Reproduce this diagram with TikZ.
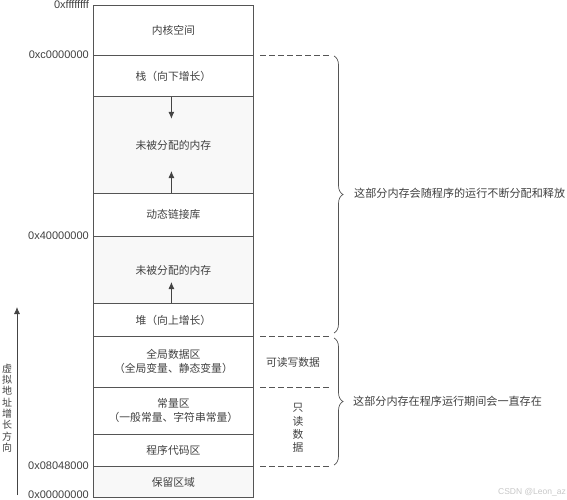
\documentclass[tikz,border=0pt]{standalone}
\usepackage{fontspec}
\setmainfont{Liberation Sans}
\newfontfamily\cjk{Noto Sans CJK SC}
\usetikzlibrary{decorations.pathreplacing,arrows.meta}
\definecolor{linec}{HTML}{555555}
\definecolor{textc}{HTML}{404040}
\definecolor{freec}{HTML}{F8F8F8}
\begin{document}
\begin{tikzpicture}[x=1pt,y=-1pt,
  region/.style={draw=linec, line width=0.8pt, minimum width=160pt, inner sep=0pt, anchor=north west,
    font=\cjk\fontsize{10.8}{14}\selectfont, text=textc, align=center},
  freeregion/.style={region, fill=freec},
  addr/.style={anchor=east, font=\fontsize{11}{12}\selectfont, text=textc, inner sep=0pt},
  dashline/.style={draw=linec, line width=0.7pt, dash pattern=on 6pt off 3pt},
  bracec/.style={draw=linec, line width=0.7pt, decorate, decoration={brace, amplitude=9pt}},
  note/.style={anchor=west, font=\cjk\fontsize{11.1}{14}\selectfont, text=textc, inner sep=0pt},
  growarrow/.style={draw=linec!80!black, line width=0.8pt, -{Latex[length=7pt,width=6pt]}}
]
\useasboundingbox (0,0) rectangle (567,500);

% regions
\node[region, minimum height=50pt] (kernel) at (93,5) {内核空间};
\node[region, minimum height=41pt] (stack) at (93,55) {栈（向下增长）};
\node[freeregion, minimum height=97pt] (free1) at (93,96) {未被分配的内存};
\node[region, minimum height=43pt] (dynlib) at (93,193) {动态链接库};
\node[freeregion, minimum height=67pt] (free2) at (93,236) {未被分配的内存};
\node[region, minimum height=33pt] (heap) at (93,303) {堆（向上增长）};
\node[region, minimum height=51pt] (global) at (93,336) {全局数据区\\（全局变量、静态变量）};
\node[region, minimum height=47pt] (const) at (93,387) {常量区\\（一般常量、字符串常量）};
\node[region, minimum height=32pt] (code) at (93,434) {程序代码区};
\node[freeregion, minimum height=31pt] (reserved) at (93,466) {保留区域};

% growth arrows
\coordinate (s1) at ([xshift=-2pt]stack.south);
\coordinate (e1) at ([xshift=-2pt,yshift=-22pt]stack.south);
\draw[growarrow] (s1) -- (e1);
\coordinate (s2) at ([xshift=-2pt]dynlib.north);
\coordinate (e2) at ([xshift=-2pt,yshift=22pt]dynlib.north);
\draw[growarrow] (s2) -- (e2);
\coordinate (s3) at ([xshift=-2pt]heap.north);
\coordinate (e3) at ([xshift=-2pt,yshift=21pt]heap.north);
\draw[growarrow] (s3) -- (e3);

% address labels
\node[addr] (a1) at ([xshift=-4pt]kernel.north west) {0xffffffff};
\node[addr] (a2) at ([xshift=-4pt]stack.north west) {0xc0000000};
\node[addr] (a3) at ([xshift=-4pt]free2.north west) {0x40000000};
\node[addr] (a4) at ([xshift=-4pt]reserved.north west) {0x08048000};
\node[addr] (a5) at ([xshift=-4pt,yshift=3pt]reserved.south west) {0x00000000};

% virtual address direction
\coordinate (vstart) at (17,495);
\coordinate (vend) at (17,307);
\draw[growarrow] (vstart) -- (vend);
\node[font=\cjk\fontsize{10}{11.3}\selectfont, text=textc, align=center, inner sep=0pt] (vdir) at (7,408) {虚\\拟\\地\\址\\增\\长\\方\\向};

% dashed lines on right
\coordinate (d1a) at (260,55);  \coordinate (d1b) at (331,55);
\coordinate (d2a) at (260,336); \coordinate (d2b) at (331,336);
\coordinate (d3a) at (260,387); \coordinate (d3b) at (331,387);
\coordinate (d4a) at (260,466); \coordinate (d4b) at (331,466);
\draw[dashline] (d1a) -- (d1b);
\draw[dashline] (d2a) -- (d2b);
\draw[dashline] (d3a) -- (d3b);
\draw[dashline] (d4a) -- (d4b);

% right column labels
\node[font=\cjk\fontsize{10.8}{14}\selectfont, text=textc, inner sep=0pt] (rw) at (293,362) {可读写数据};
\node[font=\cjk\fontsize{10.8}{13.2}\selectfont, text=textc, align=center, inner sep=0pt] (ro) at (298,428) {只\\读\\数\\据};

% braces
\coordinate (b1a) at (334,56);
\coordinate (b1b) at (334,333);
\draw[bracec] (b1a) -- (b1b);
\coordinate (b2a) at (334,338);
\coordinate (b2b) at (334,465);
\draw[bracec] (b2a) -- (b2b);
\node[note] (n1) at (354,193) {这部分内存会随程序的运行不断分配和释放};
\node[note] (n2) at (353,401) {这部分内存在程序运行期间会一直存在};

% watermark
\node[anchor=east, font=\fontsize{8.5}{10}\selectfont, text=black!22, inner sep=0pt] (wm) at (566,492) {CSDN @Leon\_az};
\end{tikzpicture}
\end{document}
